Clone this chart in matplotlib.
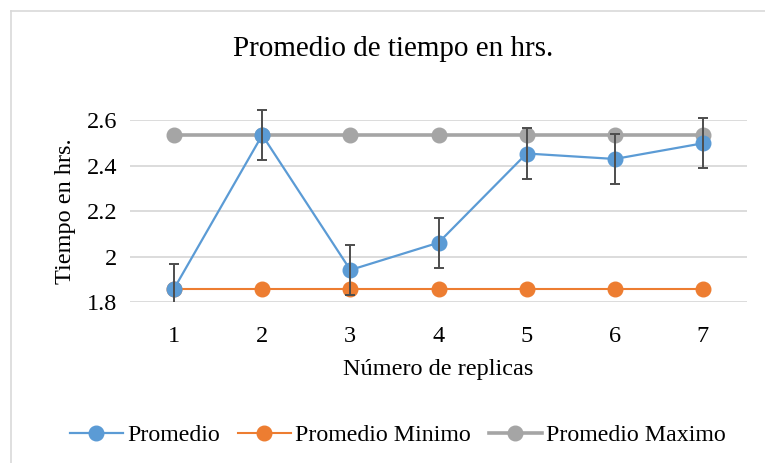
import matplotlib
matplotlib.use("Agg")
import matplotlib.pyplot as plt
from matplotlib.transforms import Bbox, TransformedBbox
from matplotlib.lines import Line2D

plt.rcParams['font.family'] = ['Liberation Serif', 'DejaVu Serif']

replicas = [1, 2, 3, 4, 5, 6, 7]
promedio = [1.86, 2.535, 1.942, 2.062, 2.454, 2.430, 2.499]
promedio_minimo = [1.86, 1.86, 1.86, 1.86, 1.86, 1.86, 1.86]
promedio_maximo = [2.535, 2.535, 2.535, 2.535, 2.535, 2.535, 2.535]
error_promedio = [0.11, 0.11, 0.11, 0.11, 0.11, 0.11, 0.11]
y_ticks = [1.8, 2.0, 2.2, 2.4, 2.6]
y_tick_labels = ['1.8', '2', '2.2', '2.4', '2.6']

BLUE = '#5B9BD5'
ORANGE = '#ED7D31'
GRAY = '#A5A5A5'
GRID = '#D9D9D9'
TEXT = '#000000'

fig = plt.figure(figsize=(7.65, 4.63), dpi=100)
ax = fig.add_axes([130 / 765, 1 - 302.3 / 463, (747 - 130) / 765, (302.3 - 120.3) / 463])

# chart frame (top and left edges visible)
fig.add_artist(Line2D([10.5 / 765, 10.5 / 765], [0, 1 - 11 / 463], transform=fig.transFigure,
                      color='#D9D9D9', lw=1.2))
fig.add_artist(Line2D([10.5 / 765, 1], [1 - 11 / 463, 1 - 11 / 463], transform=fig.transFigure,
                      color='#D9D9D9', lw=1.2))

x = list(range(len(replicas)))
ms = 10.5

ax.plot(x, promedio_maximo, color=GRAY, lw=2.6, marker='o', ms=ms, zorder=3,
        label='Promedio Maximo')
ax.plot(x, promedio_minimo, color=ORANGE, lw=1.5, marker='o', ms=ms, zorder=3,
        label='Promedio Minimo')
ax.plot(x, promedio, color=BLUE, lw=1.6, marker='o', ms=ms, zorder=4, label='Promedio')

eb = ax.errorbar(x, promedio, yerr=error_promedio, fmt='none', ecolor='#4D4D4D',
                 elinewidth=1.4, capsize=3.3, capthick=1.4, zorder=5)
clip = TransformedBbox(Bbox([[0, 0], [1, 1.2]]), ax.transAxes)
for art in list(eb.lines[1]) + list(eb.lines[2]):
    art.set_clip_box(clip)

ax.set_xlim(-0.5, len(replicas) - 0.5)
ax.set_ylim(1.8, 2.6)
ax.set_xticks(x)
ax.set_xticklabels([str(r) for r in replicas], fontsize=17.5, color=TEXT)
ax.set_yticks(y_ticks)
ax.set_yticklabels(y_tick_labels, fontsize=17.5, color=TEXT)
ax.tick_params(length=0, pad=9)
ax.tick_params(axis='x', pad=17)
ax.grid(axis='y', color=GRID, lw=1.3)
ax.set_axisbelow(True)
for s in ax.spines.values():
    s.set_visible(False)

ax.set_xlabel('Número de replicas', fontsize=17.5, color=TEXT, labelpad=9)
ax.set_ylabel('Tiempo en hrs.', fontsize=17.5, color=TEXT, labelpad=8)
fig.text(393 / 765, 1 - 49 / 463, 'Promedio de tiempo en hrs.', fontsize=21,
         ha='center', va='center', color=TEXT)

h, l = ax.get_legend_handles_labels()
order = [2, 1, 0]
leg = fig.legend([h[i] for i in order], [l[i] for i in order], loc='center',
                 bbox_to_anchor=(398 / 765, 1 - 435 / 463), ncol=3, frameon=False,
                 fontsize=17.2, handlelength=2.2, handletextpad=0.2, columnspacing=0.75)

fig.savefig('out.png', dpi=100)
